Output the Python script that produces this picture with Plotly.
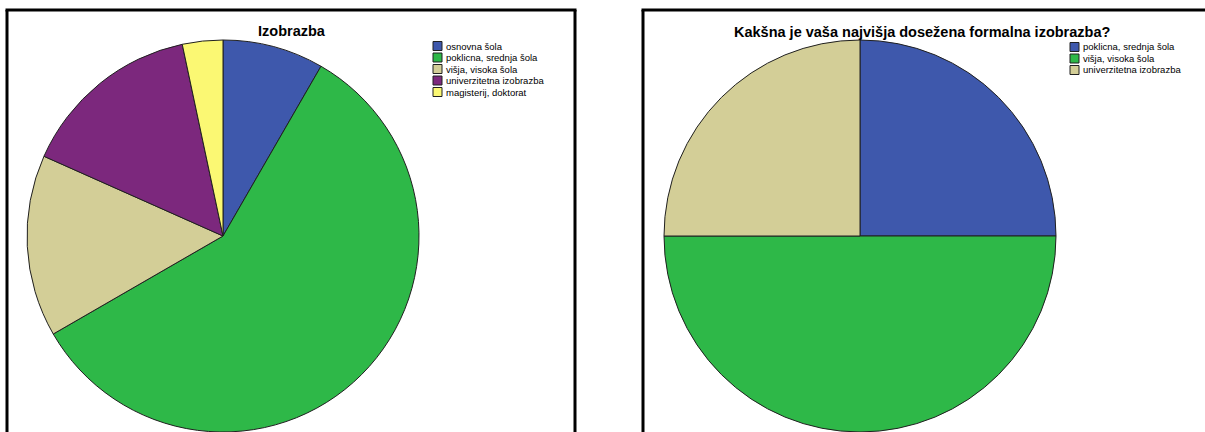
import plotly.graph_objects as go

# --- data -------------------------------------------------------------
edu_categories = ["osnovna šola", "poklicna, srednja šola", "višja, visoka šola",
                  "univerzitetna izobrazba", "magisterij, doktorat"]
edu_counts = [5, 35, 9, 9, 2]
edu_colors = ["#3E58AC", "#2EB848", "#D3CE97", "#7C287D", "#FBF873"]

formal_categories = ["poklicna, srednja šola", "višja, visoka šola", "univerzitetna izobrazba"]
formal_counts = [1, 2, 1]
formal_colors = ["#3E58AC", "#2EB848", "#D3CE97"]

titles = ["Izobrazba", "Kakšna je vaša najvišja dosežena formalna izobrazba?"]

# --- layout helpers ---------------------------------------------------
W, H = 1205, 432
FONT = "Liberation Sans, Arial, sans-serif"


def px_x(x):
    return x / W


def px_y(y):
    return 1 - y / H


def pie_domain(cx, cy, r):
    return dict(x=[px_x(cx - r), px_x(cx + r)], y=[px_y(cy + r), px_y(cy - r)])


R = 196
fig = go.Figure()

fig.add_trace(go.Pie(
    labels=edu_categories, values=edu_counts, sort=False, direction="clockwise",
    rotation=0, textinfo="none", hoverinfo="label+value+percent",
    marker=dict(colors=edu_colors, line=dict(color="#202020", width=1)),
    domain=pie_domain(223, 236, R), showlegend=False,
))
fig.add_trace(go.Pie(
    labels=formal_categories, values=formal_counts, sort=False, direction="clockwise",
    rotation=0, textinfo="none", hoverinfo="label+value+percent",
    marker=dict(colors=formal_colors, line=dict(color="#202020", width=1)),
    domain=pie_domain(860, 236, R), showlegend=False,
))

shapes = []
annotations = []


def frame_line(x0, y0, x1, y1):
    shapes.append(dict(type="line", xref="paper", yref="paper",
                       x0=px_x(x0), y0=px_y(y0), x1=px_x(x1), y1=px_y(y1),
                       line=dict(color="#000000", width=3)))


# left panel frame: left, top, right edges (runs off the bottom)
frame_line(7, H, 7, 10)
frame_line(5.5, 10, 576.5, 10)
frame_line(575, 10, 575, H)
# right panel frame: left and top edges (runs off the bottom and right)
frame_line(643, H, 643, 10)
frame_line(641.5, 10, W, 10)

# panel titles
for text, cx, cy in [(titles[0], 292, 31), (titles[1], 922, 32)]:
    annotations.append(dict(text=f"<b>{text}</b>", x=px_x(cx), y=px_y(cy),
                            xref="paper", yref="paper", xanchor="center", yanchor="middle",
                            showarrow=False, font=dict(family=FONT, size=14.5, color="#000000")))


# compact legends beside each pie
def add_legend(cats, colors, sx, sy, step):
    for i, (cat, col) in enumerate(zip(cats, colors)):
        yc = sy + i * step
        shapes.append(dict(type="rect", xref="paper", yref="paper",
                           x0=px_x(sx), x1=px_x(sx + 9), y0=px_y(yc + 4.5), y1=px_y(yc - 4.5),
                           fillcolor=col, line=dict(color="#202020", width=1)))
        annotations.append(dict(text=cat, x=px_x(sx + 11), y=px_y(yc),
                                xref="paper", yref="paper", xanchor="left", yanchor="middle",
                                showarrow=False, font=dict(family=FONT, size=9.5, color="#000000")))


add_legend(edu_categories, edu_colors, 433, 46, 11.5)
add_legend(formal_categories, formal_colors, 1070, 47, 11.5)

fig.update_layout(
    width=W, height=H, margin=dict(l=0, r=0, t=0, b=0),
    paper_bgcolor="#FFFFFF", plot_bgcolor="#FFFFFF",
    shapes=shapes, annotations=annotations,
)

fig.write_html("out.html")
